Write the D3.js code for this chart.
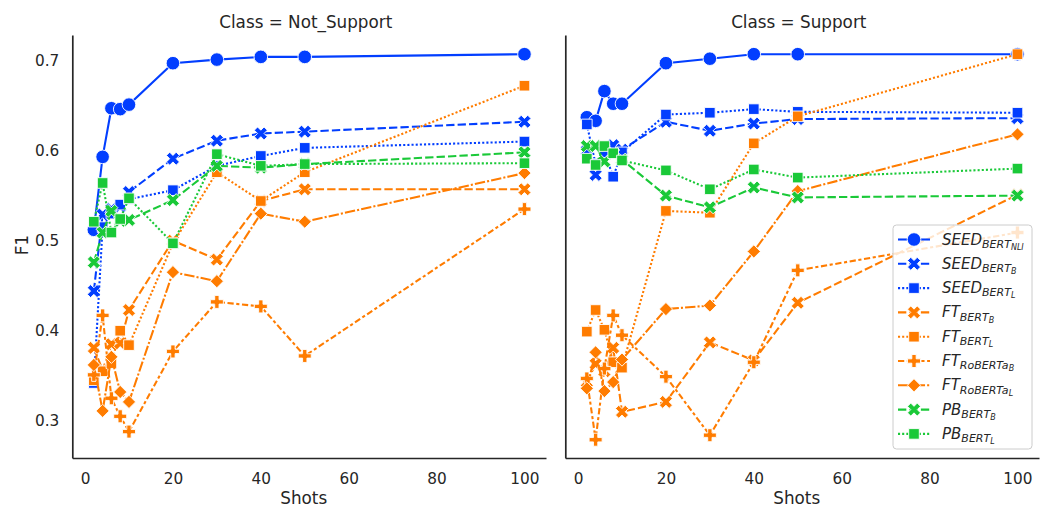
<!DOCTYPE html>
<html><head><meta charset="utf-8">
<script src="https://cdn.jsdelivr.net/npm/d3@7"></script>
<style>
body{margin:0;background:#fff}
text{font-family:"DejaVu Sans",sans-serif;fill:#262626}
</style>
</head><body>
<svg id="c" width="1047" height="508"></svg>
<script>
// ---------- DATA ----------
const shots = [2, 4, 6, 8, 10, 20, 30, 40, 50, 100];
const xTicks = [0, 20, 40, 60, 80, 100];
const yTicks = [0.3, 0.4, 0.5, 0.6, 0.7];
const classes = ["Not_Support", "Support"];
const seriesKeys = ["SEED_NLI", "SEED_B", "SEED_L", "FT_B", "FT_L", "FT_RoB", "FT_RoL", "PB_B", "PB_L"];

// Class = Not_Support
const ns_SEED_NLI = [0.512, 0.593, 0.647, 0.646, 0.651, 0.697, 0.701, 0.704, 0.704, 0.707];
const ns_SEED_B   = [0.444, 0.529, 0.535, 0.538, 0.554, 0.591, 0.611, 0.619, 0.621, 0.632];
const ns_SEED_L   = [0.342, 0.515, 0.530, 0.540, 0.546, 0.556, 0.583, 0.594, 0.603, 0.610];
const ns_FT_B     = [0.381, 0.356, 0.385, 0.386, 0.423, 0.500, 0.479, 0.544, 0.557, 0.557];
const ns_FT_L     = [0.345, 0.355, 0.364, 0.400, 0.384, 0.497, 0.576, 0.544, 0.576, 0.672];
const ns_FT_RoB   = [0.351, 0.417, 0.325, 0.305, 0.288, 0.377, 0.432, 0.427, 0.372, 0.535];
const ns_FT_RoL   = [0.362, 0.311, 0.371, 0.332, 0.321, 0.465, 0.455, 0.530, 0.521, 0.575];
const ns_PB_B     = [0.476, 0.509, 0.533, 0.522, 0.523, 0.545, 0.583, 0.581, 0.585, 0.598];
const ns_PB_L     = [0.521, 0.564, 0.509, 0.524, 0.547, 0.497, 0.596, 0.583, 0.585, 0.586];

// Class = Support
const s_SEED_NLI = [0.637, 0.633, 0.666, 0.652, 0.652, 0.697, 0.702, 0.707, 0.707, 0.707];
const s_SEED_B   = [0.600, 0.573, 0.595, 0.606, 0.601, 0.632, 0.622, 0.630, 0.635, 0.636];
const s_SEED_L   = [0.629, 0.585, 0.598, 0.571, 0.598, 0.640, 0.642, 0.646, 0.643, 0.642];
const s_FT_B     = [0.343, 0.363, 0.355, 0.381, 0.310, 0.321, 0.387, 0.367, 0.431, 0.551];
const s_FT_L     = [0.399, 0.423, 0.401, 0.365, 0.359, 0.533, 0.531, 0.608, 0.638, 0.707];
const s_FT_RoB   = [0.347, 0.279, 0.358, 0.417, 0.395, 0.349, 0.284, 0.365, 0.467, 0.509];
const s_FT_RoL   = [0.336, 0.376, 0.333, 0.343, 0.368, 0.424, 0.428, 0.488, 0.555, 0.618];
const s_PB_B     = [0.605, 0.605, 0.588, 0.597, 0.590, 0.550, 0.537, 0.559, 0.548, 0.550];
const s_PB_L     = [0.591, 0.584, 0.605, 0.597, 0.589, 0.578, 0.557, 0.579, 0.570, 0.580];

const panelData = {
  "Not_Support": {SEED_NLI: ns_SEED_NLI, SEED_B: ns_SEED_B, SEED_L: ns_SEED_L, FT_B: ns_FT_B, FT_L: ns_FT_L,
                  FT_RoB: ns_FT_RoB, FT_RoL: ns_FT_RoL, PB_B: ns_PB_B, PB_L: ns_PB_L},
  "Support":     {SEED_NLI: s_SEED_NLI, SEED_B: s_SEED_B, SEED_L: s_SEED_L, FT_B: s_FT_B, FT_L: s_FT_L,
                  FT_RoB: s_FT_RoB, FT_RoL: s_FT_RoL, PB_B: s_PB_B, PB_L: s_PB_L}
};

// legend labels: [main, subscript, sub-subscript]
const legendLabels = {
  SEED_NLI: ["SEED", "BERT", "NLI"], SEED_B: ["SEED", "BERT", "B"], SEED_L: ["SEED", "BERT", "L"],
  FT_B: ["FT", "BERT", "B"], FT_L: ["FT", "BERT", "L"], FT_RoB: ["FT", "RoBERTa", "B"],
  FT_RoL: ["FT", "RoBERTa", "L"], PB_B: ["PB", "BERT", "B"], PB_L: ["PB", "BERT", "L"]
};

// ---------- STYLE ----------
const BLUE = "#023eff", ORANGE = "#ff7c00", GREEN = "#1ac938";
const LW = 2.08;
const dashNLI = null, dashB = [4, 1.5], dashL = [1, 1], dashRoB = [3, 1.25, 1.5, 1.25], dashRoL = [5, 1, 1, 1];
const style = {
  SEED_NLI: {c: BLUE, m: "o", d: dashNLI}, SEED_B: {c: BLUE, m: "X", d: dashB}, SEED_L: {c: BLUE, m: "s", d: dashL},
  FT_B: {c: ORANGE, m: "X", d: dashB}, FT_L: {c: ORANGE, m: "s", d: dashL},
  FT_RoB: {c: ORANGE, m: "P", d: dashRoB}, FT_RoL: {c: ORANGE, m: "D", d: dashRoL},
  PB_B: {c: GREEN, m: "X", d: dashB}, PB_L: {c: GREEN, m: "s", d: dashL}
};

function markerPath(m) {
  const poly = (pts, s) => "M" + pts.map(p => [(p[0] - 0.5) * s, (p[1] - 0.5) * s].join(",")).join("L") + "Z";
  if (m === "o") { const r = 6.8; return `M${-r},0A${r},${r} 0 1,0 ${r},0A${r},${r} 0 1,0 ${-r},0Z`; }
  if (m === "s") { const h = 5.3; return `M${-h},${-h}L${h},${-h}L${h},${h}L${-h},${h}Z`; }
  if (m === "D") { const h = 6.6; return `M0,${-h}L${h},0L0,${h}L${-h},0Z`; }
  if (m === "X") return poly([[0.25,0],[0.5,0.25],[0.75,0],[1,0.25],[0.75,0.5],[1,0.75],[0.75,1],[0.5,0.75],[0.25,1],[0,0.75],[0.25,0.5],[0,0.25]], 13);
  if (m === "P") { const a = 1/3, b = 2/3; return poly([[a,0],[b,0],[b,a],[1,a],[1,b],[b,b],[b,1],[a,1],[a,b],[0,b],[0,a],[a,a]], 13); }
}

// ---------- LAYOUT ----------
const svg = d3.select("#c");
const yTop = 35, yBot = 458;
const TICK_FS = 15.3, LABEL_FS = 16.8;
const panels = [{cls: "Not_Support", x0: 72.3, x1: 546}, {cls: "Support", x0: 565.3, x1: 1039}];
const y = d3.scaleLinear().domain([0.2587, 0.7283]).range([yBot, yTop]);

panels.forEach((p, pi) => {
  const x = d3.scaleLinear().domain([-2.9, 104.9]).range([p.x0, p.x1]);
  const g = svg.append("g");

  // x axis
  const xa = g.append("g").attr("transform", `translate(0,${yBot})`)
    .call(d3.axisBottom(x).tickValues(xTicks).tickSize(0).tickPadding(15).tickFormat(d3.format("d")));
  xa.select(".domain").attr("stroke", "#262626").attr("stroke-width", 1.7);
  xa.selectAll("text").attr("font-size", TICK_FS).attr("font-family", "DejaVu Sans").attr("fill", "#262626");

  // y axis
  const ya = g.append("g").attr("transform", `translate(${p.x0},0)`)
    .call(d3.axisLeft(y).tickValues(yTicks).tickSize(0).tickPadding(13).tickFormat(pi === 0 ? d3.format(".1f") : () => ""));
  ya.select(".domain").attr("stroke", "#262626").attr("stroke-width", 1.7);
  ya.selectAll("text").attr("font-size", TICK_FS).attr("font-family", "DejaVu Sans").attr("fill", "#262626");

  // title & x label
  const cx = x(50);
  g.append("text").attr("x", cx + 1).attr("y", 27.5).attr("text-anchor", "middle").attr("font-size", LABEL_FS)
    .text("Class = " + p.cls);
  g.append("text").attr("x", cx - 1).attr("y", 504).attr("text-anchor", "middle").attr("font-size", LABEL_FS)
    .text("Shots");

  // series
  const line = d3.line().x((d, i) => x(shots[i])).y(d => y(d));
  seriesKeys.forEach(k => {
    const vals = panelData[p.cls][k];
    const st = style[k];
    const sg = g.append("g");
    sg.append("path").attr("d", line(vals)).attr("fill", "none").attr("stroke", st.c)
      .attr("stroke-width", LW)
      .attr("stroke-dasharray", st.d ? st.d.map(v => v * LW).join(",") : null);
    sg.selectAll("path.mk").data(vals).join("path").attr("class", "mk")
      .attr("d", markerPath(st.m))
      .attr("transform", (d, i) => `translate(${x(shots[i])},${y(d)})`)
      .attr("fill", st.c).attr("stroke", "#fff").attr("stroke-width", 0.9);
  });
});

// y label
svg.append("text").attr("transform", "translate(27.5,245) rotate(-90)").attr("text-anchor", "middle")
  .attr("font-size", LABEL_FS).text("F1");

// ---------- LEGEND ----------
const lg = svg.append("g");
lg.append("rect").attr("x", 893).attr("y", 225).attr("width", 139).attr("height", 224)
  .attr("rx", 3.5).attr("fill", "#fff").attr("fill-opacity", 0.8).attr("stroke", "#cccccc").attr("stroke-width", 1);
seriesKeys.forEach((k, i) => {
  const cy = 239.5 + i * 24.3;
  const st = style[k];
  lg.append("line").attr("x1", 898).attr("x2", 930).attr("y1", cy).attr("y2", cy)
    .attr("stroke", st.c).attr("stroke-width", LW)
    .attr("stroke-dasharray", st.d ? st.d.map(v => v * LW).join(",") : null);
  lg.append("path").attr("d", markerPath(st.m)).attr("transform", `translate(914,${cy})`)
    .attr("fill", st.c).attr("stroke", "#fff").attr("stroke-width", 0.9);
  const lab = legendLabels[k];
  const t = lg.append("text").attr("x", 942).attr("y", cy + 5).attr("font-style", "italic").attr("font-size", 15);
  t.append("tspan").text(lab[0]);
  t.append("tspan").attr("font-size", 11).attr("dy", 3.3).text(lab[1]);
  t.append("tspan").attr("font-size", 8).attr("dy", 2).text(lab[2]);
});
</script>
</body></html>
